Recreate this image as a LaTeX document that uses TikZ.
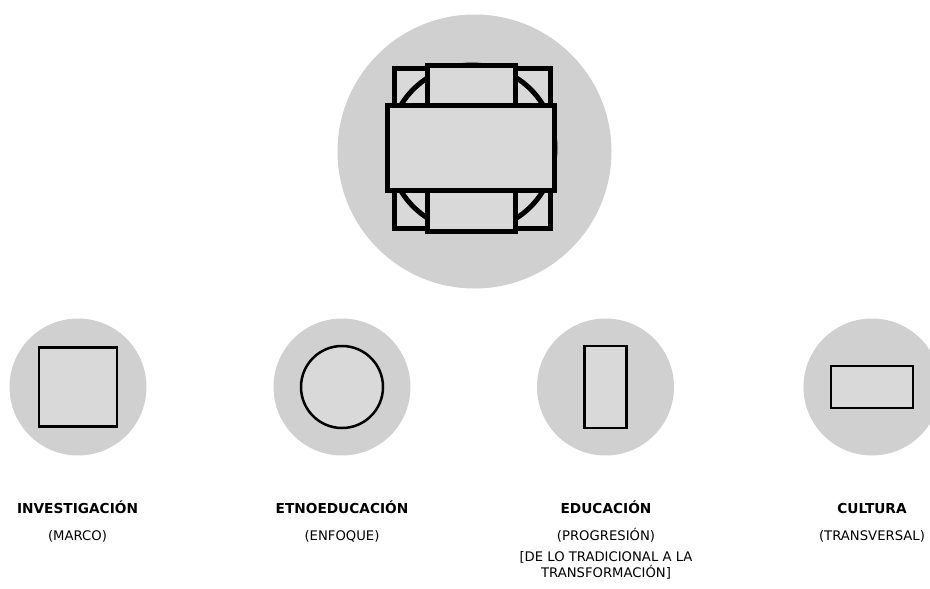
\documentclass[tikz,border=0pt]{standalone}
\usepackage{fontspec}
\setmainfont{DejaVu Sans}
\usetikzlibrary{positioning}

\definecolor{discgray}{RGB}{208,208,208}
\definecolor{boxgray}{RGB}{217,217,217}

\begin{document}
\begin{tikzpicture}[
  x=1pt,y=-1pt,
  disc/.style={circle,fill=discgray,inner sep=0pt,minimum size=137pt},
  bigdisc/.style={disc,minimum size=274pt},
  shp/.style={draw,fill=boxgray,inner sep=0pt,line width=2.5pt},
  bigshp/.style={shp,line width=5pt},
  title/.style={font=\fontsize{13.7}{15}\selectfont\bfseries,anchor=base},
  sub/.style={font=\fontsize{13.2}{15}\selectfont,anchor=base}
]
  \useasboundingbox (0,0) rectangle (930,589);

  % top disc
  \node[bigdisc] (hub) at (474.5,151.5) {};
  \coordinate (core) at (472,148);
  \node[bigshp,minimum width=156pt,minimum height=160pt] (hubsq) at (core) {};
  \node[bigshp,circle,minimum size=166pt] (hubring) at (core) {};
  \node[bigshp,minimum width=87.5pt,minimum height=43pt] (hubtop) at (471.25,86.5) {};
  \node[bigshp,minimum width=87.5pt,minimum height=43.5pt] (hubbot) at (471.25,209.75) {};
  \node[bigshp,minimum width=167pt,minimum height=85pt] (hubmid) at (471,148) {};

  % lower discs
  \node[disc] (inv) at (78,387) {};
  \node[shp,minimum width=78pt,minimum height=79pt] (invsq) at (inv) {};
  \node[disc] (etno) at (342,387) {};
  \node[shp,circle,minimum size=82pt] (etnoring) at (etno) {};
  \node[disc] (edu) at (605.5,387) {};
  \node[shp,minimum width=42pt,minimum height=82pt] (edurect) at (edu) {};
  \node[disc] (cult) at (872,387) {};
  \node[shp,minimum width=82pt,minimum height=42pt] (cultrect) at (cult) {};

  % labels
  \node[title] (invt) at (77.5,513.5) {INVESTIGACIÓN};
  \node[sub] (invs) at ([yshift=-26.5pt]invt.base) {(MARCO)};
  \node[title] (etnot) at (342,513.5) {ETNOEDUCACIÓN};
  \node[sub] (etnos) at ([yshift=-26.5pt]etnot.base) {(ENFOQUE)};
  \node[title] (edut) at (606,513.5) {EDUCACIÓN};
  \node[sub] (edus) at ([yshift=-26.5pt]edut.base) {(PROGRESIÓN)};
  \node[sub] (edub) at ([yshift=-21pt]edus.base) {[DE LO TRADICIONAL A LA};
  \node[sub] (educ) at ([yshift=-16pt]edub.base) {TRANSFORMACIÓN]};
  \node[title] (cultt) at (872,513.5) {CULTURA};
  \node[sub] (cults) at ([yshift=-26.5pt]cultt.base) {(TRANSVERSAL)};
\end{tikzpicture}
\end{document}
